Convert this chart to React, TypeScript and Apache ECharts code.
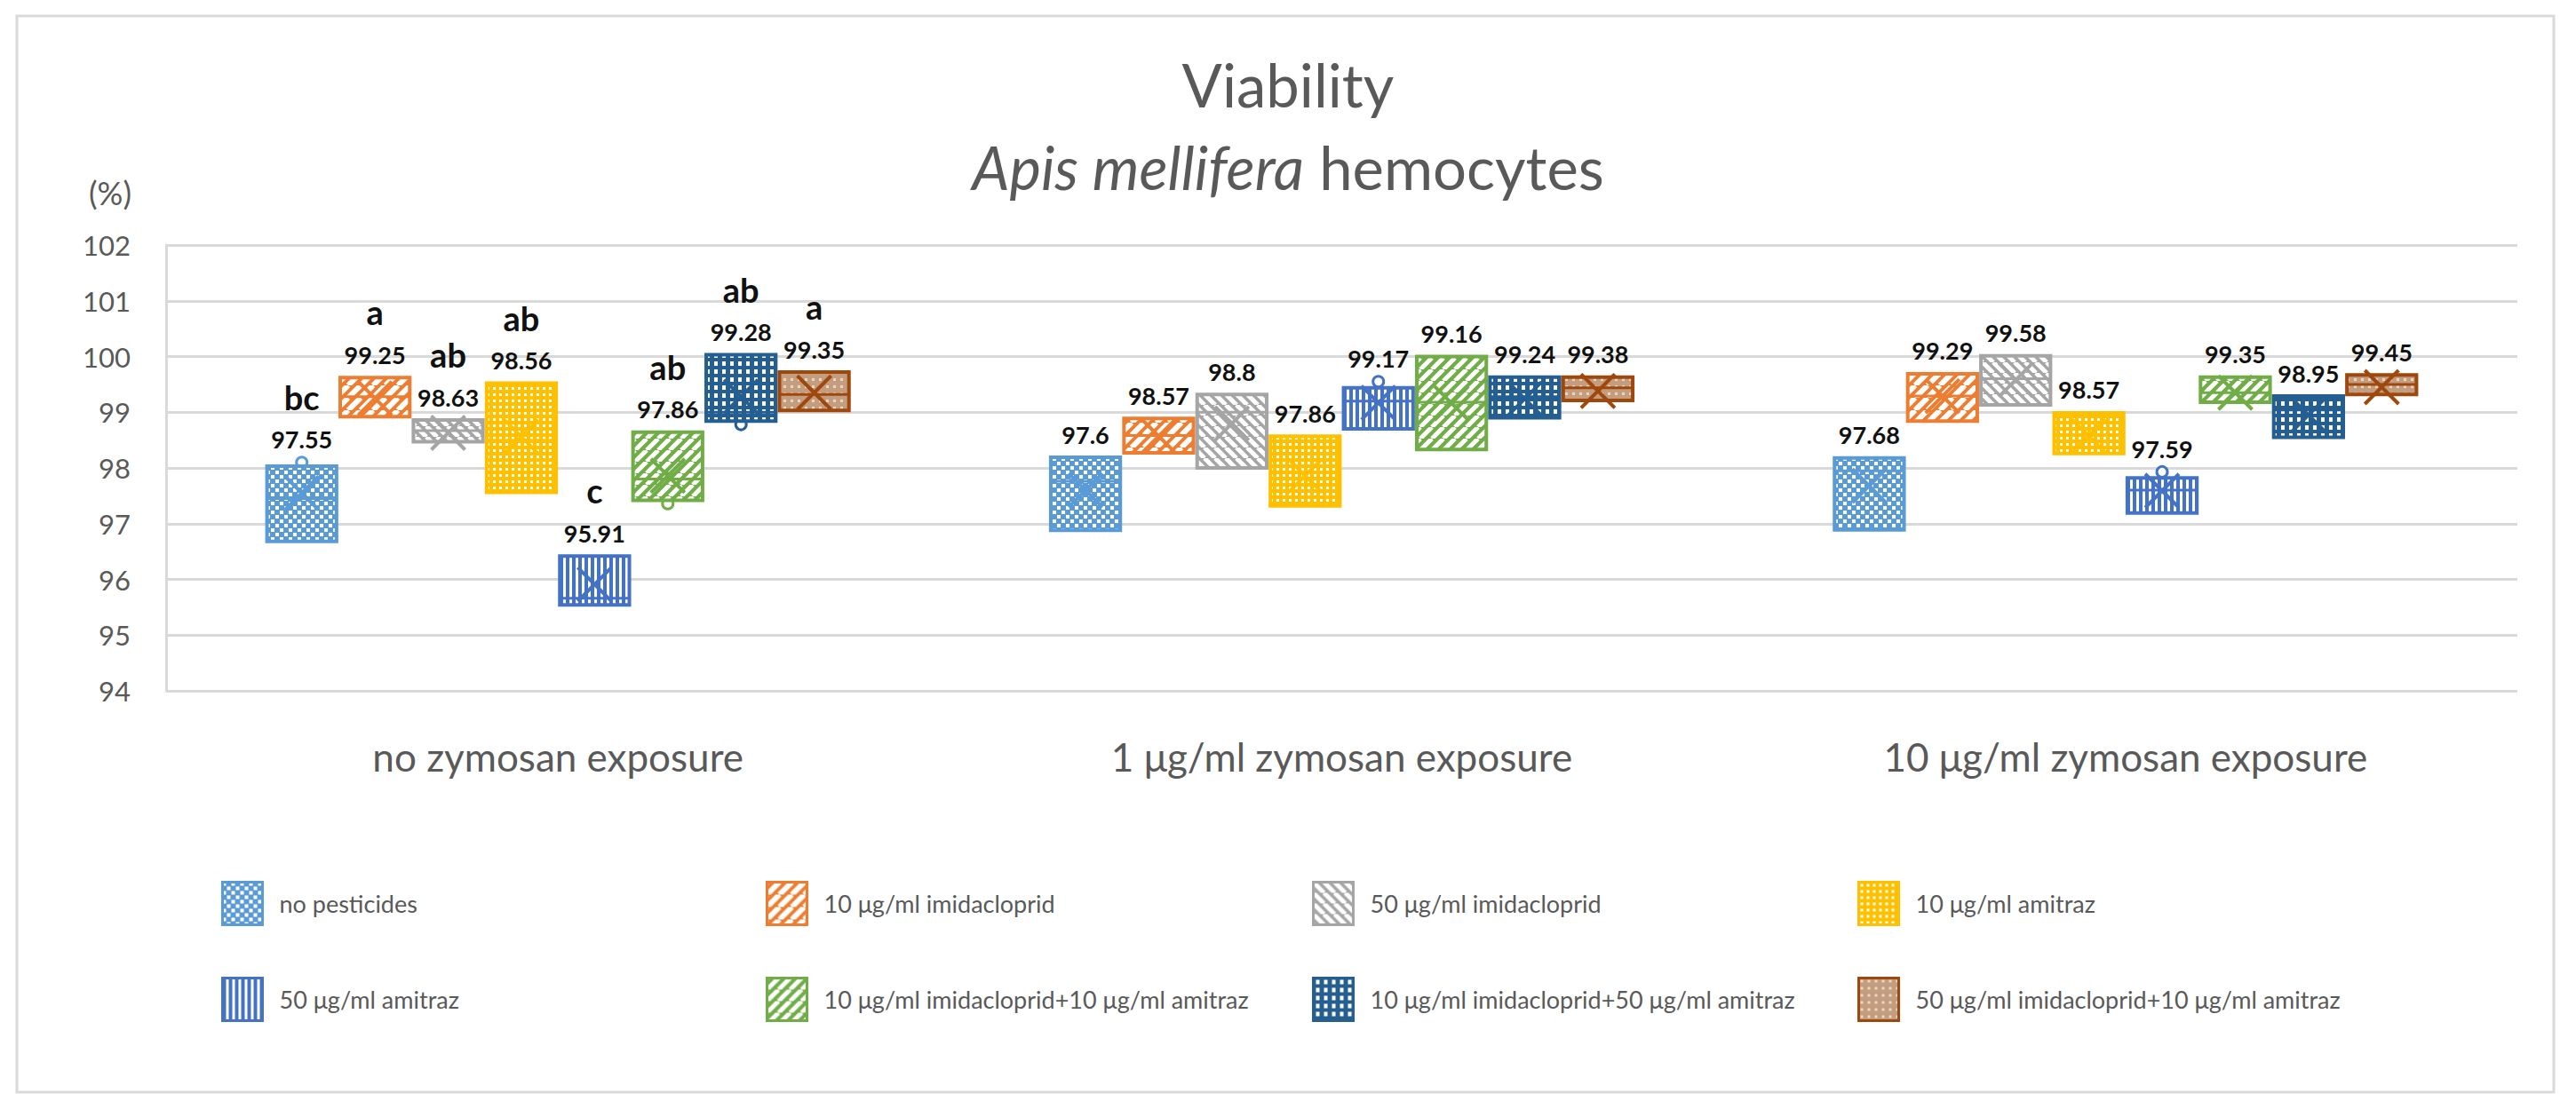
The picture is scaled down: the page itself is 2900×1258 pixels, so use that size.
import React, { useEffect, useRef } from 'react';
import * as echarts from 'echarts';

const categories = ['no zymosan exposure', '1 μg/ml zymosan exposure', '10 μg/ml zymosan exposure'];
const seriesNames = [
  'no pesticides',
  '10 μg/ml imidacloprid',
  '50 μg/ml imidacloprid',
  '10 μg/ml amitraz',
  '50 μg/ml amitraz',
  '10 μg/ml imidacloprid+10 μg/ml amitraz',
  '10 μg/ml imidacloprid+50 μg/ml amitraz',
  '50 μg/ml imidacloprid+10 μg/ml amitraz',
];
// one row per series, one column per category
const minValues = [
  [96.68, 96.88, 96.89],
  [98.92, 98.27, 98.84],
  [98.47, 98.0, 99.13],
  [97.56, 97.32, 98.26],
  [95.54, 98.7, 97.19],
  [97.36, 98.33, 99.18],
  [98.78, 98.9, 98.55],
  [99.03, 99.21, 99.32],
];
const q1Values = [
  [96.68, 96.88, 96.89],
  [98.92, 98.27, 98.84],
  [98.47, 98.0, 99.13],
  [97.56, 97.32, 98.26],
  [95.54, 98.7, 97.19],
  [97.42, 98.33, 99.18],
  [98.84, 98.9, 98.55],
  [99.03, 99.21, 99.32],
];
const medianValues = [
  [97.45, 97.76, 97.95],
  [99.28, 98.58, 99.29],
  [98.67, 99.0, 99.6],
  [98.5, 97.8, 98.47],
  [95.66, 99.2, 97.6],
  [97.8, 99.18, 99.35],
  [99.0, 99.28, 99.04],
  [99.32, 99.44, 99.5],
];
const q3Values = [
  [98.03, 98.19, 98.18],
  [99.62, 98.89, 99.69],
  [98.86, 99.32, 100.01],
  [99.52, 98.57, 98.99],
  [96.42, 99.44, 97.82],
  [98.64, 100.0, 99.63],
  [100.03, 99.63, 99.29],
  [99.72, 99.63, 99.67],
];
const maxValues = [
  [98.1, 98.19, 98.18],
  [99.62, 98.89, 99.69],
  [98.86, 99.32, 100.01],
  [99.52, 98.57, 98.99],
  [96.42, 99.55, 97.93],
  [98.64, 100.0, 99.63],
  [100.03, 99.63, 99.29],
  [99.72, 99.63, 99.67],
];
const meanValues = [
  [97.55, 97.6, 97.68],
  [99.25, 98.57, 99.29],
  [98.63, 98.8, 99.58],
  [98.56, 97.86, 98.57],
  [95.91, 99.17, 97.59],
  [97.86, 99.16, 99.35],
  [99.28, 99.24, 98.95],
  [99.35, 99.38, 99.45],
];
const groupLetters = [
  ['bc', '', ''],
  ['a', '', ''],
  ['ab', '', ''],
  ['ab', '', ''],
  ['c', '', ''],
  ['ab', '', ''],
  ['ab', '', ''],
  ['a', '', ''],
];
const yTicks = { min: 94, max: 102, interval: 1 };

const seriesColors = ['#5B9BD5', '#ED7D31', '#A5A5A5', '#FFC000', '#4472C4', '#70AD47', '#255E91', '#9E480E'];
const FONT = 'Lato, "Open Sans", sans-serif';
const GRAY = '#595959';

function makePattern(w: number, h: number, bg: string, draw: (c: CanvasRenderingContext2D) => void) {
  const cv = document.createElement('canvas');
  cv.width = w;
  cv.height = h;
  const ctx = cv.getContext('2d') as CanvasRenderingContext2D;
  ctx.fillStyle = bg;
  ctx.fillRect(0, 0, w, h);
  draw(ctx);
  return { image: cv.toDataURL(), repeat: 'repeat', imageWidth: w, imageHeight: h };
}

function diag(ctx: CanvasRenderingContext2D, p: number, lw: number, up: boolean) {
  ctx.strokeStyle = '#ffffff';
  ctx.lineWidth = lw;
  for (let k = -1; k <= 1; k++) {
    ctx.beginPath();
    if (up) {
      ctx.moveTo(k * p, p);
      ctx.lineTo(k * p + p, 0);
    } else {
      ctx.moveTo(k * p, 0);
      ctx.lineTo(k * p + p, p);
    }
    ctx.stroke();
  }
}

function buildPatterns() {
  return [
    makePattern(10, 10, seriesColors[0], (c) => {
      c.fillStyle = '#ffffff';
      c.fillRect(0, 0, 4, 4);
      c.fillRect(5, 5, 4, 4);
    }),
    makePattern(14, 14, seriesColors[1], (c) => diag(c, 14, 6, true)),
    makePattern(12, 12, seriesColors[2], (c) => diag(c, 12, 5, false)),
    makePattern(7, 7, seriesColors[3], (c) => {
      c.fillStyle = '#ffffff';
      c.fillRect(2, 2, 3, 3);
    }),
    makePattern(7, 7, seriesColors[4], (c) => {
      c.fillStyle = '#ffffff';
      c.fillRect(4, 0, 3, 7);
    }),
    makePattern(13, 13, seriesColors[5], (c) => diag(c, 13, 5, true)),
    makePattern(9, 9, seriesColors[6], (c) => {
      c.fillStyle = '#ffffff';
      c.fillRect(3, 2, 4, 5);
    }),
    makePattern(8, 8, '#C49C7E', (c) => {
      c.fillStyle = '#E8D6C8';
      c.fillRect(2, 2, 3, 3);
    }),
  ];
}

export default function App() {
  const ref = useRef<HTMLDivElement>(null);

  useEffect(() => {
    if (!ref.current) return;
    const chart = echarts.init(ref.current, undefined, { renderer: 'svg' });
    const patterns = buildPatterns();

    const renderItem = (params: any, api: any) => {
      const s = params.seriesIndex;
      const di = params.dataIndex;
      const cat = api.value(0);
      const low = api.value(1);
      const q1 = api.value(2);
      const med = api.value(3);
      const q3 = api.value(4);
      const high = api.value(5);
      const mean = api.value(6);
      const band = api.size([1, 0])[0];
      const slot = band * 0.0934;
      const bw = slot * 0.95;
      const base = api.coord([cat, q1]);
      const cx = base[0] + (s - 3.5) * slot;
      const yQ1 = base[1];
      const yQ3 = api.coord([cat, q3])[1];
      const yMed = api.coord([cat, med])[1];
      const yLow = api.coord([cat, low])[1];
      const yHigh = api.coord([cat, high])[1];
      const yMean = api.coord([cat, mean])[1];
      const color = seriesColors[s];
      const children: any[] = [];
      if (high > q3) {
        children.push({ type: 'line', shape: { x1: cx, y1: yQ3, x2: cx, y2: yHigh + 6 }, style: { stroke: color, lineWidth: 3 } });
        children.push({ type: 'circle', shape: { cx, cy: yHigh, r: 6 }, style: { fill: '#fff', stroke: color, lineWidth: 3 } });
      }
      if (low < q1) {
        children.push({ type: 'line', shape: { x1: cx, y1: yQ1, x2: cx, y2: yLow - 6 }, style: { stroke: color, lineWidth: 3 } });
        children.push({ type: 'circle', shape: { cx, cy: yLow, r: 6 }, style: { fill: '#fff', stroke: color, lineWidth: 3 } });
      }
      children.push({
        type: 'rect',
        shape: { x: cx - bw / 2, y: yQ3, width: bw, height: yQ1 - yQ3 },
        style: { fill: patterns[s], stroke: color, lineWidth: 4 },
      });
      children.push({ type: 'line', shape: { x1: cx - bw / 2, y1: yMed, x2: cx + bw / 2, y2: yMed }, style: { stroke: color, lineWidth: 3 } });
      const h = 19;
      children.push({ type: 'line', shape: { x1: cx - h, y1: yMean - h, x2: cx + h, y2: yMean + h }, style: { stroke: color, lineWidth: 4 } });
      children.push({ type: 'line', shape: { x1: cx - h, y1: yMean + h, x2: cx + h, y2: yMean - h }, style: { stroke: color, lineWidth: 4 } });
      const top = Math.min(yQ3, yHigh);
      const labelY = top - 26;
      children.push({
        type: 'text',
        z2: 10,
        style: {
          text: String(mean),
          x: cx,
          y: labelY,
          align: 'center',
          verticalAlign: 'middle',
          fill: '#111111',
          fontSize: 27,
          fontWeight: 'bold',
          fontFamily: FONT,
        },
      });
      const letter = groupLetters[s][di];
      if (letter) {
        children.push({
          type: 'text',
          z2: 10,
          style: {
            text: letter,
            x: cx,
            y: labelY - 48,
            align: 'center',
            verticalAlign: 'middle',
            fill: '#111111',
            fontSize: 38,
            fontWeight: 'bold',
            fontFamily: FONT,
          },
        });
      }
      return { type: 'group', children };
    };

    const series = seriesNames.map((name, s) => ({
      type: 'custom',
      name,
      renderItem,
      itemStyle: { color: patterns[s], borderColor: seriesColors[s], borderWidth: 3 },
      encode: { x: 0, y: [1, 2, 3, 4, 5, 6] },
      data: categories.map((_, i) => [
        i,
        minValues[s][i],
        q1Values[s][i],
        medianValues[s][i],
        q3Values[s][i],
        maxValues[s][i],
        meanValues[s][i],
      ]),
    }));

    const legendCols = [249, 862, 1477, 2091];
    const legendRows = [992, 1100];
    const legends = seriesNames.map((name, s) => ({
      data: [
        {
          name,
          icon: 'rect',
          itemStyle: { color: patterns[s], borderColor: seriesColors[s], borderWidth: 3 },
        },
      ],
      left: legendCols[s % 4],
      top: legendRows[Math.floor(s / 4)],
      padding: 0,
      itemWidth: 45,
      itemHeight: 48,
      selectedMode: false,
      textStyle: { fontSize: 27, color: GRAY, fontFamily: FONT, padding: [0, 0, 0, 14] },
    }));

    chart.setOption({
      animation: false,
      backgroundColor: '#ffffff',
      title: {
        text: '{n|Viability}\n{i|Apis mellifera}{n| hemocytes}',
        left: 'center',
        top: 48,
        padding: 0,
        textStyle: {
          fontWeight: 'normal',
          rich: {
            n: { fontSize: 67, fontFamily: FONT, fontWeight: 'normal', color: GRAY, lineHeight: 93 },
            i: { fontSize: 67, fontFamily: FONT, fontWeight: 'normal', color: GRAY, fontStyle: 'italic', lineHeight: 93 },
          },
        },
      },
      graphic: [
        {
          type: 'rect',
          shape: { x: 19, y: 18, width: 2856, height: 1212 },
          style: { fill: 'none', stroke: '#D9D9D9', lineWidth: 3 },
          silent: true,
        },
        {
          type: 'text',
          x: 124,
          y: 217,
          style: { text: '(%)', fontSize: 36, fontFamily: FONT, fill: GRAY, align: 'center', verticalAlign: 'middle' },
        },
      ],
      legend: legends,
      grid: { left: 187, right: 66, top: 276, bottom: 480, containLabel: false },
      xAxis: {
        type: 'category',
        data: categories,
        axisLine: { show: false },
        axisTick: { show: false },
        axisLabel: { fontSize: 44, color: GRAY, fontFamily: FONT, margin: 52 },
      },
      yAxis: {
        type: 'value',
        min: yTicks.min,
        max: yTicks.max,
        interval: yTicks.interval,
        axisLine: { show: true, lineStyle: { color: '#D9D9D9', width: 3 } },
        axisTick: { show: false },
        splitLine: { lineStyle: { color: '#D9D9D9', width: 3 } },
        axisLabel: { fontSize: 31, color: GRAY, fontFamily: FONT, margin: 40 },
      },
      series,
    });

    return () => chart.dispose();
  }, []);

  return <div ref={ref} style={{ position: 'absolute', left: 0, top: 0, width: 2900, height: 1258 }} />;
}
